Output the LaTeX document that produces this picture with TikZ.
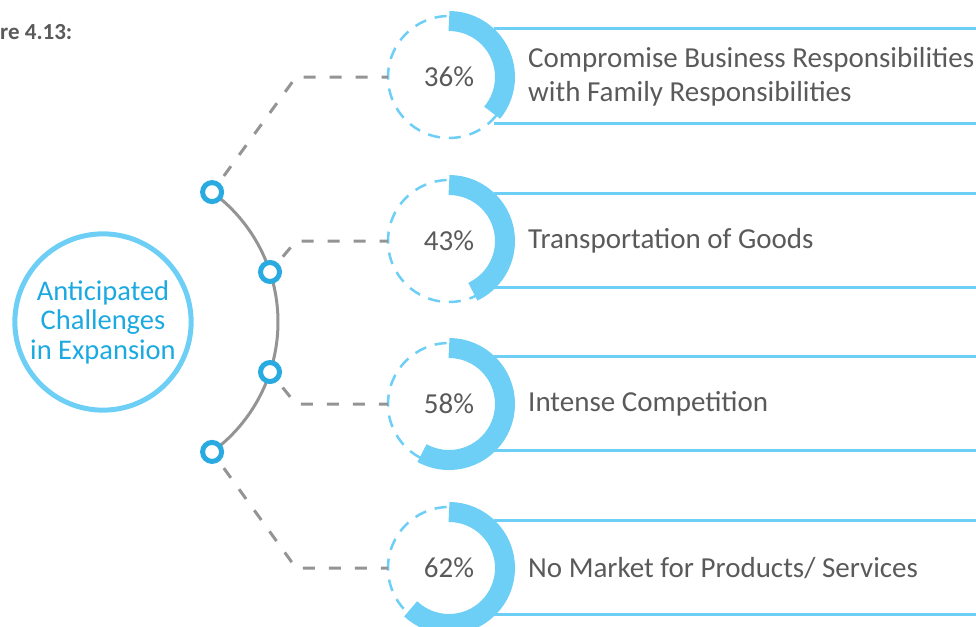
\documentclass[tikz,border=0pt]{standalone}
\usepackage{fontspec}
\setmainfont{Carlito}
\definecolor{ringblue}{HTML}{6DCFF6}
\definecolor{dotblue}{HTML}{29ABE2}
\definecolor{txtblue}{HTML}{1BA9E1}
\definecolor{txtgray}{HTML}{5A5A5A}
\definecolor{lngray}{HTML}{949494}

\begin{document}
\begin{tikzpicture}
	[x=1pt,y=-1pt,
	dot/.style={circle,draw=dotblue,line width=5pt,fill=white,minimum size=19pt,inner sep=0pt},
	pct/.style={inner sep=0pt,text=txtgray,font=\fontsize{29}{33}\selectfont},
	lbl/.style={anchor=west,inner sep=0pt,align=left,text=txtgray,font=\fontsize{29}{34}\selectfont},
	link/.style={draw=lngray,line width=3pt,dash pattern=on 12pt off 14pt,dash phase=18pt},
	band/.style={draw=ringblue,line width=3pt}]
	\useasboundingbox (0,0) rectangle (976,626);
	\node[anchor=west,inner sep=0pt,text=txtgray,font=\bfseries\fontsize{23}{26}\selectfont] (fig) at (0,32) {re 4.13:};
	\node[circle,draw=ringblue,line width=5pt,minimum size=175pt,align=center,text=txtblue,font=\fontsize{28.5}{29.5}\selectfont] (hub) at (103,322) {Anticipated\\Challenges\\in Expansion};
	\coordinate (o) at (117,322);
	\draw[lngray,line width=3pt] ([shift={(-53.8:161)}]o) arc[start angle=-53.8,end angle=53.8,radius=161];
	\node[dot] (c1) at ([shift={(-53.8:161)}]o) {};
	\node[dot] (c2) at ([shift={(-18.1:161)}]o) {};
	\node[dot] (c3) at ([shift={(18.1:161)}]o) {};
	\node[dot] (c4) at ([shift={(53.8:161)}]o) {};
	\coordinate (p1) at (449,77);
	\coordinate (p2) at (449,241);
	\coordinate (p3) at (449,404);
	\coordinate (p4) at (449,568);
	
	\foreach \i/\v in {1/36,2/43,3/58,4/62}{
		\draw[band] ([shift={(45,-48)}]p\i) -- ++(540,0);
		\draw[band] ([shift={(45,46)}]p\i) -- ++(540,0);
		\draw[ringblue,line width=2.5pt,dash pattern=on 12pt off 9pt] (p\i) circle[radius=61];
		\draw[ringblue,line width=20pt] ([shift={(-90:56)}]p\i) arc[start angle=-90,delta angle=3.6*\v,radius=56];
		\node[pct] (v\i) at (p\i) {\v\%};
		\coordinate (k\i) at ([xshift=-153]p\i);
		\coordinate (e\i) at ([xshift=-61]p\i);
		\draw[link] (c\i) -- (k\i) -- (e\i);
	}
	\node[lbl] (t1) at (528,77) {Compromise Business Responsibilities\\with Family Responsibilities};
	\node[lbl] (t2) at (528,241) {Transportation of Goods};
	\node[lbl] (t3) at (528,404) {Intense Competition};
	\node[lbl] (t4) at (528,568) {No Market for Products/ Services};
\end{tikzpicture}
\end{document}
